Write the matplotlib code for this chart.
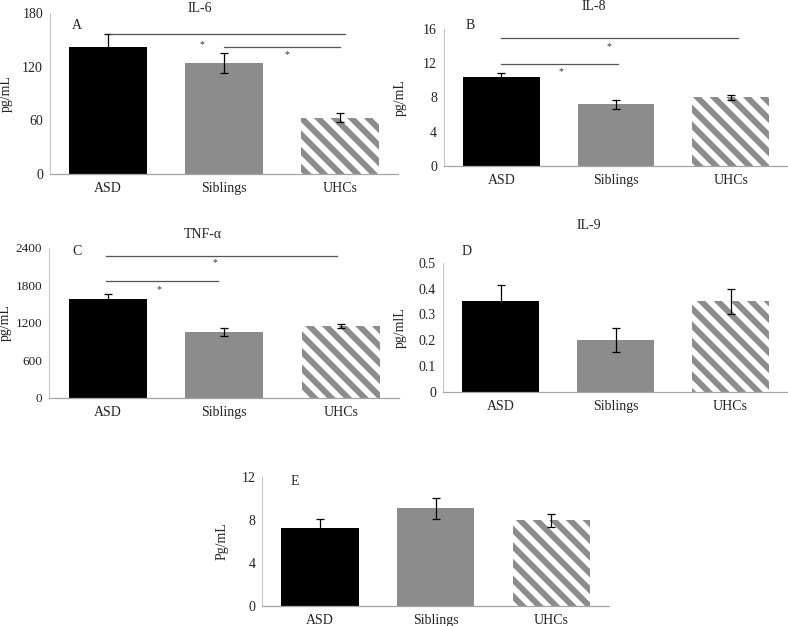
import numpy as np
import matplotlib
matplotlib.use('Agg')
import matplotlib.pyplot as plt

plt.rcParams['font.family'] = ['Liberation Serif', 'DejaVu Serif']
plt.rcParams['hatch.linewidth'] = 4.3

groups = ['ASD', 'Siblings', 'UHCs']

il6 = [142, 124, 63]
il6_err = [14, 11, 5]
il8 = [10.4, 7.2, 8.05]
il8_err = [0.5, 0.55, 0.3]
tnf = [1585, 1050, 1150]
tnf_err = [70, 60, 30]
il9 = [0.35, 0.2, 0.35]
il9_err = [0.065, 0.047, 0.05]
e_vals = [7.2, 9.05, 7.95]
e_err = [0.9, 1.0, 0.6]

# significance bars: (x start, x end, y) and asterisks (x, y)
il6_sig = [(0.02, 2.04, 156.5), (1.0, 2.0, 142)]
il6_star = [(0.81, 145), (1.54, 134)]
il8_sig = [(0.0, 2.06, 15.0), (0.0, 1.02, 11.97)]
il8_star = [(0.94, 14.0), (0.52, 11.0)]
tnf_sig = [(-0.01, 1.97, 2267), (-0.01, 0.95, 1867)]
tnf_star = [(0.92, 2160), (0.44, 1723)]

black = '#000000'
grey = '#8c8c8c'

W, H = 788, 626
fig = plt.figure(figsize=(W / 100, H / 100), dpi=100)


def px_axes(left, right, top, bottom):
    return fig.add_axes([left / W, 1 - bottom / H, (right - left) / W, (bottom - top) / H])


def panel(ax, vals, errs, ymax, step, ylabel, ylab_x, letter, letter_pos, title=None,
          title_pos=None, sig=(), stars=(), ytick_size=10):
    x = np.arange(len(groups))
    bars = ax.bar(x, vals, width=0.67, color=[black, grey, 'white'], linewidth=0)
    bars[2].set_edgecolor(grey)
    bars[2].set_hatch('\\\\')
    ax.errorbar(x, vals, yerr=errs, fmt='none', ecolor='black', elinewidth=0.9,
                capsize=3, capthick=0.9)
    ax.set_xlim(-0.5, 2.5)
    ax.set_ylim(0, ymax)
    ticks = np.arange(0, ymax + step / 2, step)
    ax.set_yticks(ticks)
    ax.set_yticklabels(['{:g}'.format(round(t, 2)) for t in ticks])
    ax.set_xticks(x)
    ax.set_xticklabels(groups)
    for s in ['top', 'right']:
        ax.spines[s].set_visible(False)
    ax.spines['left'].set_color('#c8c8c8')
    ax.spines['bottom'].set_color('#a6a6a6')
    ax.spines['left'].set_linewidth(0.8)
    ax.spines['bottom'].set_linewidth(0.9)
    ax.tick_params(length=0, labelsize=10, colors='#222222')
    ax.tick_params(axis='x', pad=6)
    ax.tick_params(axis='y', pad=5, labelsize=ytick_size)
    ax.set_ylabel(ylabel, fontsize=10, color='#222222')
    ax.yaxis.set_label_coords(ylab_x, 0.5)
    ax.text(letter_pos[0], letter_pos[1], letter, transform=ax.transAxes, fontsize=10,
            ha='left', va='center', color='#222222')
    if title:
        ax.text(title_pos[0], title_pos[1], title, transform=ax.transAxes, fontsize=10,
                ha='center', va='center', color='#222222')
    for x0, x1, y in sig:
        ax.plot([x0, x1], [y, y], color='#555555', lw=0.9, clip_on=False)
    for sx, sy in stars:
        ax.text(sx, sy, '*', fontsize=7, ha='center', va='center', color='#333333')


axA = px_axes(50, 398, 13, 174)
panel(axA, il6, il6_err, 180, 60, 'pg/mL', -0.106, 'A', (0.062, 0.925), 'IL-6',
      (0.43, 1.025), il6_sig, il6_star)

axB = px_axes(444, 788, 29.3, 165.7)
panel(axB, il8, il8_err, 16, 4, 'pg/mL', -0.108, 'B', (0.062, 1.03), 'IL-8',
      (0.435, 1.165), il8_sig, il8_star)

axC = px_axes(49.3, 399, 247.7, 397.7)
panel(axC, tnf, tnf_err, 2400, 600, 'pg/mL', -0.108, 'C', (0.065, 0.973), 'TNF-α',
      (0.44, 1.09), tnf_sig, tnf_star, ytick_size=9.5)

axD = px_axes(443, 788, 262.7, 392)
panel(axD, il9, il9_err, 0.5, 0.1, 'pg/mlL', -0.104, 'D', (0.055, 1.085), 'IL-9',
      (0.423, 1.286))

axE = px_axes(262.3, 609, 476.7, 605.7)
panel(axE, e_vals, e_err, 12, 4, 'Pg/mL', -0.096, 'E', (0.082, 0.961))

fig.savefig('out.png', dpi=100)
